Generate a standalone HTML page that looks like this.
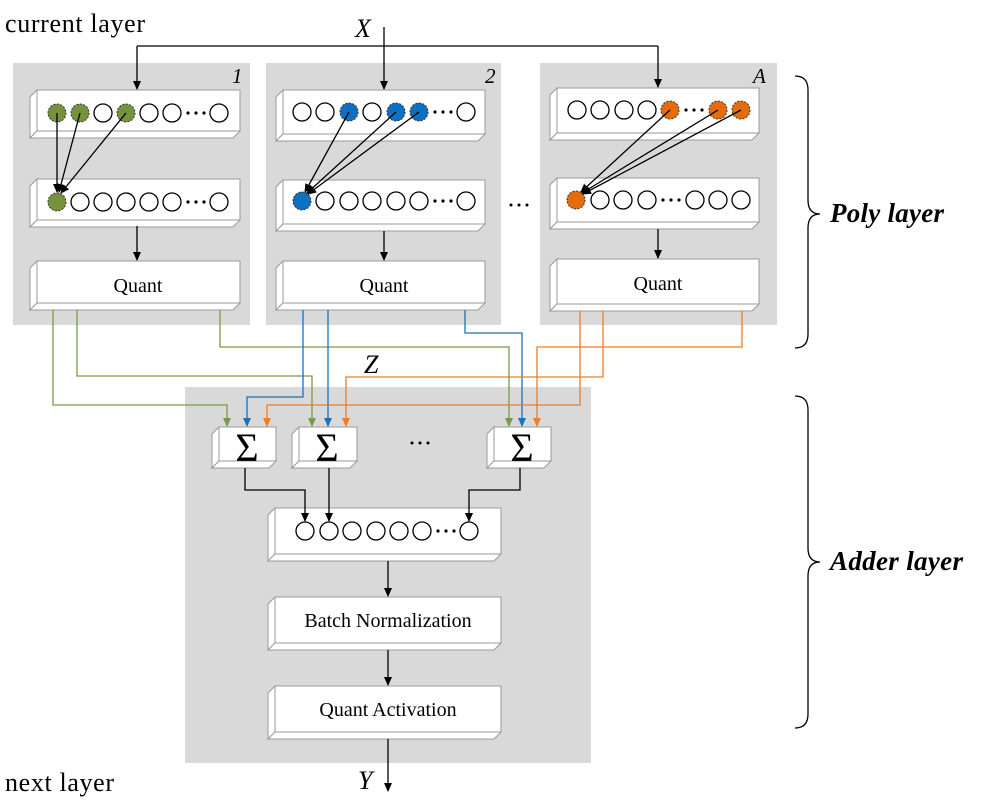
<!DOCTYPE html>
<html><head><meta charset="utf-8"><style>
body{margin:0;background:#fff}
svg{display:block;font-family:"Liberation Serif",serif}
</style></head><body>
<svg width="996" height="806" viewBox="0 0 996 806" xmlns="http://www.w3.org/2000/svg">
<defs>
<marker id="ak" markerWidth="10" markerHeight="10" refX="8" refY="4" orient="auto" markerUnits="userSpaceOnUse"><path d="M0,0 L9,4 L0,8 z" fill="#000"/></marker>
<marker id="ag" markerWidth="10" markerHeight="10" refX="8" refY="4" orient="auto" markerUnits="userSpaceOnUse"><path d="M0,0 L9,4 L0,8 z" fill="#7a9a46"/></marker>
<marker id="ab" markerWidth="10" markerHeight="10" refX="8" refY="4" orient="auto" markerUnits="userSpaceOnUse"><path d="M0,0 L9,4 L0,8 z" fill="#1573c2"/></marker>
<marker id="ao" markerWidth="10" markerHeight="10" refX="8" refY="4" orient="auto" markerUnits="userSpaceOnUse"><path d="M0,0 L9,4 L0,8 z" fill="#ef7d22"/></marker>
</defs>

<rect x="13" y="63" width="237" height="262" fill="#d9d9d9"/>
<rect x="266" y="63" width="235" height="262" fill="#d9d9d9"/>
<rect x="540" y="63" width="237" height="262" fill="#d9d9d9"/>
<rect x="185" y="387" width="406" height="376" fill="#d9d9d9"/>

<g fill="#fff" stroke="#9a9a9a" stroke-width="1">
<polygon points="30,97 37,90 37,131 30,138"/><polygon points="30,138 37,131 240,131 233,138"/><rect x="37" y="90" width="203" height="41"/>
<polygon points="30,186 37,179 37,220 30,227"/><polygon points="30,227 37,220 240,220 233,227"/><rect x="37" y="179" width="203" height="41"/>
<polygon points="30,268 37,261 37,303 30,310"/><polygon points="30,310 37,303 240,303 233,310"/><rect x="37" y="261" width="203" height="42"/>
<polygon points="276,97 283,90 283,134 276,141"/><polygon points="276,141 283,134 485,134 478,141"/><rect x="283" y="90" width="202" height="44"/>
<polygon points="276,187 283,180 283,224 276,231"/><polygon points="276,231 283,224 485,224 478,231"/><rect x="283" y="180" width="202" height="44"/>
<polygon points="276,268 283,261 283,303 276,310"/><polygon points="276,310 283,303 485,303 478,310"/><rect x="283" y="261" width="202" height="42"/>
<polygon points="550,95 557,88 557,133 550,140"/><polygon points="550,140 557,133 759,133 752,140"/><rect x="557" y="88" width="202" height="45"/>
<polygon points="550,185 557,178 557,222 550,229"/><polygon points="550,229 557,222 759,222 752,229"/><rect x="557" y="178" width="202" height="44"/>
<polygon points="550,266 557,259 557,304 550,311"/><polygon points="550,311 557,304 759,304 752,311"/><rect x="557" y="259" width="202" height="45"/>
<polygon points="212,434 219,427 219,461 212,468"/><polygon points="212,468 219,461 276,461 269,468"/><rect x="219" y="427" width="57" height="34"/>
<polygon points="292,434 299,427 299,461 292,468"/><polygon points="292,468 299,461 357,461 350,468"/><rect x="299" y="427" width="58" height="34"/>
<polygon points="487,434 494,427 494,461 487,468"/><polygon points="487,468 494,461 551,461 544,468"/><rect x="494" y="427" width="57" height="34"/>
<polygon points="268,515 275,508 275,554 268,561"/><polygon points="268,561 275,554 501,554 494,561"/><rect x="275" y="508" width="226" height="46"/>
<polygon points="268,604 275,597 275,643 268,650"/><polygon points="268,650 275,643 501,643 494,650"/><rect x="275" y="597" width="226" height="46"/>
<polygon points="268,693 275,686 275,732 268,739"/><polygon points="268,739 275,732 501,732 494,739"/><rect x="275" y="686" width="226" height="46"/>
</g>

<g stroke="#000" stroke-width="1.3" fill="#fff">
<circle cx="149" cy="113" r="9"/><circle cx="172" cy="113" r="9"/><circle cx="103" cy="113" r="9"/><circle cx="219" cy="113" r="9"/>
<circle cx="80" cy="202" r="9"/><circle cx="103" cy="202" r="9"/><circle cx="126" cy="202" r="9"/><circle cx="149" cy="202" r="9"/><circle cx="172" cy="202" r="9"/><circle cx="219" cy="202" r="9"/>
<circle cx="302" cy="112" r="9"/><circle cx="325" cy="112" r="9"/><circle cx="372" cy="112" r="9"/><circle cx="466" cy="112" r="9"/>
<circle cx="325" cy="201" r="9"/><circle cx="349" cy="201" r="9"/><circle cx="372" cy="201" r="9"/><circle cx="396" cy="201" r="9"/><circle cx="419" cy="201" r="9"/><circle cx="466" cy="201" r="9"/>
<circle cx="577" cy="110" r="9"/><circle cx="600" cy="110" r="9"/><circle cx="624" cy="110" r="9"/><circle cx="647" cy="110" r="9"/>
<circle cx="600" cy="200" r="9"/><circle cx="623" cy="200" r="9"/><circle cx="647" cy="200" r="9"/><circle cx="695" cy="200" r="9"/><circle cx="718" cy="200" r="9"/><circle cx="741" cy="200" r="9"/>
<circle cx="305" cy="531" r="9"/><circle cx="329" cy="531" r="9"/><circle cx="352" cy="531" r="9"/><circle cx="376" cy="531" r="9"/><circle cx="399" cy="531" r="9"/><circle cx="422" cy="531" r="9"/><circle cx="469" cy="531" r="9"/>
</g>
<g stroke="#333" stroke-width="1" stroke-dasharray="2,1.5">
<g fill="#76923c"><circle cx="57" cy="113" r="9"/><circle cx="80" cy="113" r="9"/><circle cx="126" cy="113" r="9"/><circle cx="57" cy="202" r="9"/></g>
<g fill="#0f6fc0"><circle cx="349" cy="112" r="9"/><circle cx="396" cy="112" r="9"/><circle cx="419" cy="112" r="9"/><circle cx="302" cy="201" r="9"/></g>
<g fill="#e46c0a"><circle cx="670" cy="110" r="9"/><circle cx="718" cy="110" r="9"/><circle cx="741" cy="110" r="9"/><circle cx="576" cy="200" r="9"/></g>
</g>
<g fill="#000">
<circle cx="188" cy="113" r="1.6"/><circle cx="196" cy="113" r="1.6"/><circle cx="204" cy="113" r="1.6"/>
<circle cx="188" cy="202" r="1.6"/><circle cx="196" cy="202" r="1.6"/><circle cx="204" cy="202" r="1.6"/>
<circle cx="435" cy="112" r="1.6"/><circle cx="443" cy="112" r="1.6"/><circle cx="451" cy="112" r="1.6"/>
<circle cx="435" cy="201" r="1.6"/><circle cx="443" cy="201" r="1.6"/><circle cx="451" cy="201" r="1.6"/>
<circle cx="686" cy="110" r="1.6"/><circle cx="694" cy="110" r="1.6"/><circle cx="702" cy="110" r="1.6"/>
<circle cx="663" cy="200" r="1.6"/><circle cx="671" cy="200" r="1.6"/><circle cx="679" cy="200" r="1.6"/>
<circle cx="438" cy="531" r="1.6"/><circle cx="446" cy="531" r="1.6"/><circle cx="454" cy="531" r="1.6"/>
<circle cx="511" cy="205" r="1.5"/><circle cx="519" cy="205" r="1.5"/><circle cx="527" cy="205" r="1.5"/>
<circle cx="412" cy="443" r="1.5"/><circle cx="420" cy="443" r="1.5"/><circle cx="428" cy="443" r="1.5"/>
</g>

<g stroke="#000" stroke-width="1.3" fill="none" marker-end="url(#ak)">
<line x1="57" y1="113" x2="57" y2="192"/><line x1="80" y1="113" x2="59" y2="192"/><line x1="126" y1="113" x2="61" y2="193"/>
<line x1="349" y1="112" x2="305" y2="192"/><line x1="396" y1="112" x2="307" y2="193"/><line x1="419" y1="112" x2="308" y2="194"/>
<line x1="670" y1="110" x2="581" y2="192"/><line x1="718" y1="110" x2="582" y2="193"/><line x1="741" y1="110" x2="583" y2="194"/>
<line x1="137" y1="226" x2="137" y2="260"/><line x1="384" y1="231" x2="384" y2="260"/><line x1="658" y1="229" x2="658" y2="258"/>
<polyline points="384,27 384,89"/><polyline points="137,46 137,89"/><polyline points="658,46 658,87"/>
<polyline points="245,468 245,490 305,490 305,521"/><line x1="329" y1="468" x2="329" y2="521"/><polyline points="520,468 520,490 469,490 469,521"/>
<line x1="388" y1="561" x2="388" y2="596"/><line x1="388" y1="650" x2="388" y2="685"/><line x1="388" y1="739" x2="388" y2="791"/>
</g>
<line x1="137" y1="46" x2="658" y2="46" stroke="#000" stroke-width="1.3"/>

<g fill="none" stroke-width="1.3">
<g stroke="#7a9a46" marker-end="url(#ag)">
<polyline points="53,310 53,405 227,405 227,426"/>
<polyline points="77,310 77,376 312,376 312,426"/>
<polyline points="220,310 220,347 509,347 509,426"/>
</g>
<g stroke="#1573c2" marker-end="url(#ab)">
<polyline points="303,310 303,397 247,397 247,426"/>
<polyline points="328,310 328,426"/>
<polyline points="465,310 465,333 522,333 522,426"/>
</g>
<g stroke="#ef7d22" marker-end="url(#ao)">
<polyline points="580,311 580,405 267,405 267,426"/>
<polyline points="603,311 603,377 346,377 346,426"/>
<polyline points="742,311 742,347 537,347 537,426"/>
</g>
</g>

<g fill="none" stroke="#000" stroke-width="1.3">
<path d="M795,76 Q808,76 808,90 L808,200 Q808,214 820,214 Q808,214 808,228 L808,334 Q808,348 795,348"/>
<path d="M795,396 Q808,396 808,410 L808,548 Q808,562 820,562 Q808,562 808,576 L808,714 Q808,728 795,728"/>
</g>

<g font-size="20" text-anchor="middle">
<text x="138" y="292">Quant</text><text x="384" y="292">Quant</text><text x="658" y="290">Quant</text>
<text x="388" y="627">Batch Normalization</text><text x="388" y="716">Quant Activation</text>
</g>
<g font-size="40" text-anchor="middle">
<text x="247" y="461">Σ</text><text x="327" y="461">Σ</text><text x="522" y="461">Σ</text>
</g>
<g font-size="26" font-style="italic">
<text x="355" y="37">X</text><text x="364" y="373">Z</text><text x="358" y="789">Y</text>
</g>
<g font-size="21" font-style="italic">
<text x="232" y="83">1</text><text x="485" y="83">2</text><text x="753" y="83">A</text>
</g>
<text x="5" y="32" font-size="26" textLength="140">current layer</text>
<text x="5" y="791" font-size="26" textLength="109">next layer</text>
<text x="830" y="222" font-size="27" font-weight="bold" font-style="italic" textLength="114">Poly layer</text>
<text x="830" y="570" font-size="27" font-weight="bold" font-style="italic" textLength="133">Adder layer</text>
</svg>
</body></html>
